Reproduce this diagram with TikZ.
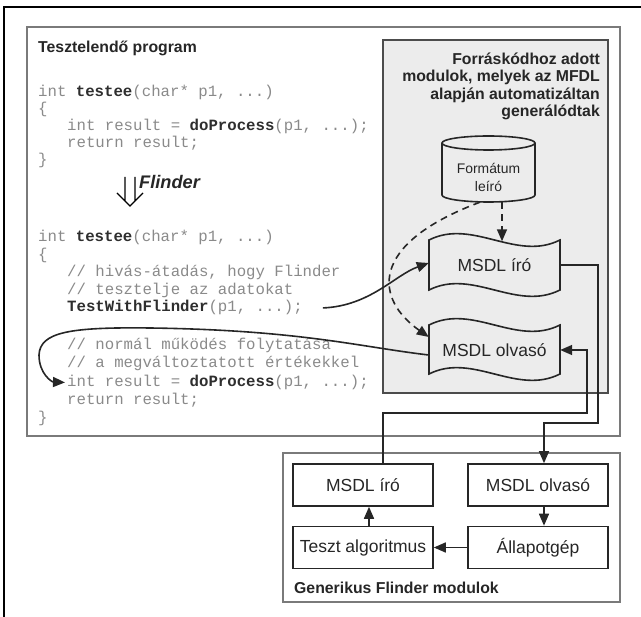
\documentclass[tikz,border=0pt]{standalone}
\usepackage{fontspec}
\setmainfont{Liberation Sans}
\setmonofont{Liberation Mono}
\usetikzlibrary{arrows.meta}
\definecolor{codegray}{HTML}{8A8A8A}
\definecolor{codedark}{HTML}{2E2E2E}
\definecolor{boxgray}{HTML}{ECECEC}
\definecolor{framegray}{HTML}{7A7A7A}
\definecolor{txt}{HTML}{262626}
\newcommand\kw[1]{{\color{codedark}\bfseries #1}}
\begin{document}
\begin{tikzpicture}[x=1pt,y=-1pt,
  code/.style={anchor=base west, inner sep=0pt, font=\ttfamily\fontsize{15.7}{17}\selectfont, text=codegray},
  lbl/.style={font=\fontsize{17.5}{20}\selectfont, text=txt},
  bbox/.style={draw=black!85, line width=1.6pt, minimum width=140pt, minimum height=42pt, inner sep=0pt, lbl},
  docnode/.style={minimum width=131pt, minimum height=50pt, inner sep=0pt, lbl},
  conn/.style={line width=1.6pt, draw=black!85, -{Triangle[length=12pt,width=10pt]}},
  dashconn/.style={conn, dash pattern=on 7pt off 5pt},
  btitle/.style={inner sep=0pt, font=\bfseries\fontsize{15.8}{18}\selectfont, text=txt},
  shapeline/.style={line width=1.6pt, draw=black!85, fill=boxgray},
]
\useasboundingbox (0,0) rectangle (641,617);
% frames
\draw[line width=1.2pt] (641,7) -- (4,7) -- (4,617);
\draw[framegray, line width=1.3pt] (27,27) rectangle (620,436);
\draw[draw=black!70, line width=1.5pt, fill=boxgray] (383,40) rectangle (608,393);
\draw[framegray, line width=1.3pt] (283,453) rectangle (620,602);

% titles
\node[btitle, anchor=base west] (title) at (38,53) {Tesztelendő program};
\node[btitle, anchor=base east] (g1) at (600,64.5) {Forráskódhoz adott};
\node[btitle, anchor=base east] (g2) at (600,82) {modulok, melyek az MFDL};
\node[btitle, anchor=base east] (g3) at (600,99.5) {alapján automatizáltan};
\node[btitle, anchor=base east] (g4) at (600,117) {generálódtak};
\node[btitle, anchor=base west] (gen) at (294,594) {Generikus Flinder modulok};

% code block 1
\node[code] (a1) at (38,97) {int \kw{testee}(char* p1, ...)};
\node[code] (a2) at (38,114) {\{};
\node[code] (a3) at (67,131) {int result = \kw{doProcess}(p1, ...);};
\node[code] (a4) at (67,148) {return result;};
\node[code] (a5) at (38,165) {\}};

% Flinder transformation arrow
\draw[line width=1.3pt, line join=miter] (125,177) -- (125,201) (135,177) -- (135,201)
  (117,193) -- (130,206) -- (143,193);
\node[inner sep=0pt, anchor=base west, font=\bfseries\itshape\fontsize{18.2}{20}\selectfont, text=txt] (fl) at (139,189) {Flinder};

% code block 2
\node[code] (b1) at (38,242) {int \kw{testee}(char* p1, ...)};
\node[code] (b2) at (38,259.5) {\{};
\node[code] (b3) at (67,277) {// hivás-átadás, hogy Flinder};
\node[code] (b4) at (67,294.5) {// tesztelje az adatokat};
\node[code] (tw) at (67,312) {\kw{TestWithFlinder}(p1, ...);};
\node[code] (b6) at (67,350) {// normál működés folytatása};
\node[code] (b7) at (67,368) {// a megváltoztatott értékekkel};
\node[code] (ir) at (67,386.5) {int result = \kw{doProcess}(p1, ...);};
\node[code] (b9) at (67,405) {return result;};
\node[code] (b10) at (38,423) {\}};

% cylinder
\draw[shapeline] (442,143) -- (442,195) arc[start angle=180,end angle=360,x radius=46.5pt,y radius=7pt] -- (535,143);
\draw[line width=1.6pt, draw=black!85] (488.5,143) ellipse[x radius=46.5pt, y radius=7pt];
\node[minimum width=93pt, minimum height=66pt, inner sep=0pt] (cyl) at (488.5,169) {};
\node[font=\fontsize{13.9}{18}\selectfont, text=txt, align=center] (fmt) at (488.5,177) {Formátum\\leíró};

% wavy documents
\draw[shapeline] (429,240) .. controls (472.7,218) and (516.3,262) .. (560,240) -- (560,290)
  .. controls (516.3,312) and (472.7,268) .. (429,290) -- cycle;
\node[docnode] (dw) at (494.5,265) {MSDL író};
\draw[shapeline] (429,325) .. controls (472.7,303) and (516.3,347) .. (560,325) -- (560,374)
  .. controls (516.3,396) and (472.7,352) .. (429,374) -- cycle;
\node[docnode] (dr) at (494.5,350) {MSDL olvasó};

% dashed generation arrows
\draw[dashconn] ([xshift=13.5pt]cyl.south) -- ([xshift=7.5pt,yshift=-1.5pt]dw.north);
\draw[dashconn] ([xshift=-8.5pt]cyl.south) .. controls (366,245) and (376,300) .. ([yshift=13pt]dr.west);

% call arrows
\draw[conn] ([xshift=20pt]tw.east) .. controls (370,306) and (395,275) .. ([yshift=2pt]dw.west);
\draw[conn] ([yshift=-5pt]dr.west) .. controls (360,347) and (300,330) .. (150,328)
  .. controls (70,327) and (40,332) .. (39,355) .. controls (39,374) and (52,382) .. ([xshift=-2pt]ir.west);

% generic modules
\node[bbox] (bw) at (363,485) {MSDL író};
\node[bbox] (bo) at (538,485) {MSDL olvasó};
\node[bbox] (ta) at (363,547.5) {Teszt algoritmus};
\node[bbox] (ap) at (538,547.5) {Állapotgép};

\draw[conn] (ap.west) -- (ta.east);
\draw[conn] ([xshift=6pt]ta.north) -- ([xshift=6pt]bw.south);
\draw[conn] ([xshift=6pt]bo.south) -- ([xshift=6pt]ap.north);

% links between generated and generic modules
\draw[conn] (dw.east) -| (598,423) -| ([xshift=6pt]bo.north);
\draw[conn] ([xshift=20pt]bw.north) |- (587,413) |- (dr.east);
\end{tikzpicture}
\end{document}
